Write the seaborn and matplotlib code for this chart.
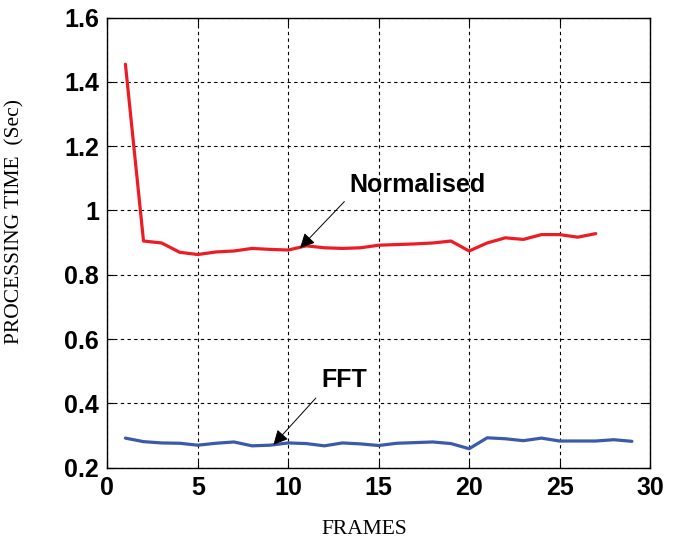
import matplotlib
matplotlib.use("Agg")
import matplotlib.pyplot as plt
import seaborn as sns
import pandas as pd

# Data.

normalised_frames = list(range(1, 28))
normalised_time = [1.455, 0.905, 0.899, 0.870, 0.863, 0.871, 0.874, 0.882, 0.879, 0.877,
                   0.890, 0.884, 0.882, 0.884, 0.892, 0.894, 0.896, 0.899, 0.905, 0.874,
                   0.899, 0.915, 0.910, 0.925, 0.925, 0.917, 0.928]

fft_frames = list(range(1, 30))
fft_time = [0.292, 0.281, 0.277, 0.276, 0.270, 0.276, 0.280, 0.268, 0.270, 0.277,
            0.275, 0.268, 0.277, 0.274, 0.269, 0.276, 0.278, 0.280, 0.275, 0.259,
            0.293, 0.290, 0.284, 0.292, 0.283, 0.283, 0.283, 0.287, 0.282]

x_ticks = [0, 5, 10, 15, 20, 25, 30]
y_ticks = [0.2, 0.4, 0.6, 0.8, 1.0, 1.2, 1.4, 1.6]
y_tick_labels = ['0.2', '0.4', '0.6', '0.8', '1', '1.2', '1.4', '1.6']

normalised = pd.DataFrame({'frame': normalised_frames, 'time': normalised_time})
fft = pd.DataFrame({'frame': fft_frames, 'time': fft_time})

sns.set_style("white")
plt.rcParams['font.family'] = ['Liberation Sans', 'DejaVu Sans']
plt.rcParams['text.color'] = 'black'
plt.rcParams['axes.labelcolor'] = 'black'
plt.rcParams['xtick.color'] = 'black'
plt.rcParams['ytick.color'] = 'black'

fig = plt.figure(figsize=(6.78, 5.41), dpi=100)
ax = fig.add_axes([0.1583, 0.1355, 0.8004, 0.832])

sns.lineplot(data=normalised, x='frame', y='time', color='#ED1C24', linewidth=2.3, ax=ax)
sns.lineplot(data=fft, x='frame', y='time', color='#3B5AAA', linewidth=2.3, ax=ax)

ax.set_xlim(0, 30)
ax.set_ylim(0.2, 1.6)
ax.set_xticks(x_ticks)
ax.set_xticklabels([str(t) for t in x_ticks])
ax.set_yticks(y_ticks)
ax.set_yticklabels(y_tick_labels)

for lab in ax.get_xticklabels() + ax.get_yticklabels():
    lab.set_fontweight('bold')
    lab.set_fontsize(18)

ax.tick_params(direction='in', length=5, width=0.8, color='black', labelcolor='black', pad=6,
               top=True, right=True, bottom=True, left=True)

ax.grid(True, linestyle=(0, (3, 3)), color='black', linewidth=0.8)

for s in ax.spines.values():
    s.set_color('black')
    s.set_linewidth(1.0)

ax.set_xlabel('FRAMES', family='Liberation Serif', fontsize=15.5, color='black')
ax.set_ylabel('PROCESSING TIME  (Sec)', family='Liberation Serif', fontsize=15.5, color='black')
ax.xaxis.set_label_coords(0.474, -0.1155)
ax.yaxis.set_label_coords(-0.152, 0.548)

# Annotations with arrows.

ax.annotate('', xy=(10.55, 0.877), xytext=(13.21, 1.034),
            arrowprops=dict(arrowstyle='-|>', color='black', lw=0.7, mutation_scale=22))
ax.text(13.4, 1.079, 'Normalised', fontsize=18, fontweight='bold', va='center', ha='left',
        color='black')

ax.annotate('', xy=(9.08, 0.265), xytext=(11.63, 0.423),
            arrowprops=dict(arrowstyle='-|>', color='black', lw=0.7, mutation_scale=22))
ax.text(11.86, 0.474, 'FFT', fontsize=18, fontweight='bold', va='center', ha='left',
        color='black')

fig.savefig('out.png', dpi=100)
